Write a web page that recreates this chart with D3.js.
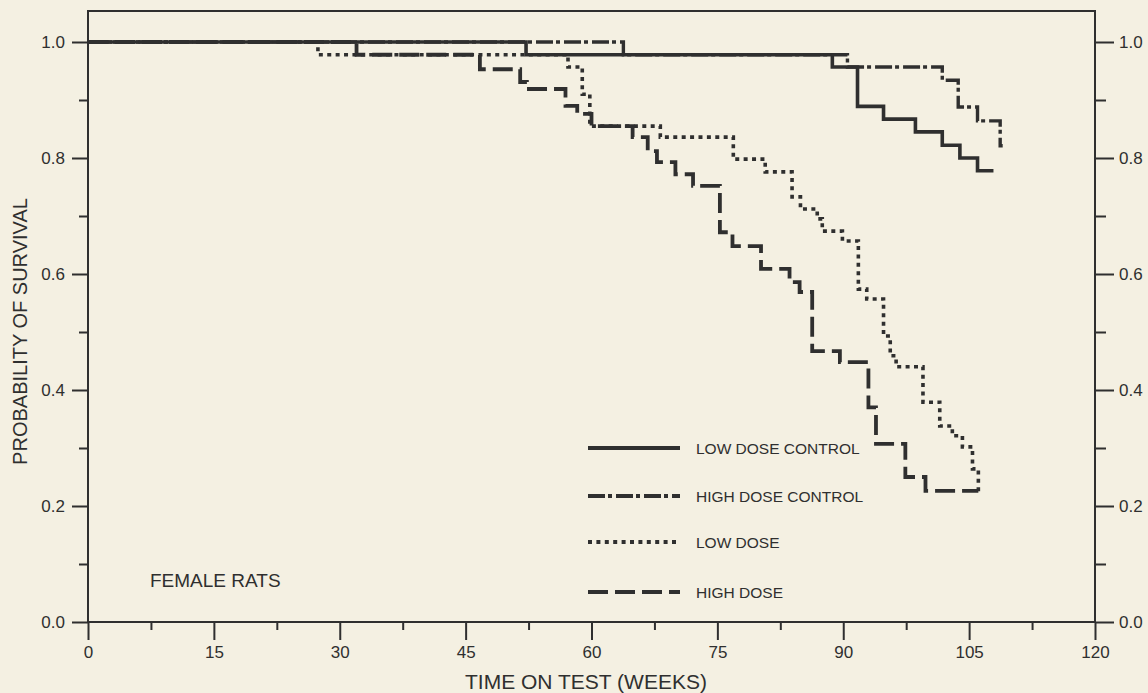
<!DOCTYPE html>
<html>
<head>
<meta charset="utf-8">
<script src="https://cdn.jsdelivr.net/npm/d3@7"></script>
<style>
  html, body { margin: 0; padding: 0; background: #f4f0e2; }
  svg { display: block; }
  text { font-family: "Liberation Sans", Arial, Helvetica, sans-serif; fill: #2f2f2f; }
</style>
</head>
<body>
<svg id="chart" width="1148" height="693"></svg>
<script>
// Axis ticks
const weekTicks = [0, 15, 30, 45, 60, 75, 90, 105, 120];
const weekMinorTicks = [7.5, 22.5, 37.5, 52.5, 67.5, 82.5, 97.5, 112.5];
const probTicks = [0.0, 0.2, 0.4, 0.6, 0.8, 1.0];
const probMinorTicks = [0.1, 0.3, 0.5, 0.7, 0.9];

// Kaplan-Meier survival estimates: [week, probability from that week on]
const lowDoseControl = [
  [0, 1.0], [52.2, 0.978], [88.7, 0.957], [91.7, 0.889], [94.8, 0.867],
  [98.6, 0.845], [101.8, 0.822], [103.9, 0.800], [106.0, 0.778], [107.9, 0.778]
];
const highDoseControl = [
  [0, 1.0], [63.8, 0.978], [90.5, 0.957], [101.8, 0.934], [103.7, 0.888],
  [106.0, 0.864], [108.7, 0.821], [109.0, 0.821]
];
const lowDose = [
  [0, 1.0], [27.4, 0.978], [57.2, 0.957], [58.9, 0.910], [59.8, 0.855],
  [68.2, 0.836], [76.9, 0.798], [80.7, 0.776], [83.9, 0.733], [84.9, 0.712],
  [86.9, 0.695], [87.5, 0.674], [89.9, 0.657], [91.8, 0.574], [92.8, 0.557],
  [94.8, 0.493], [95.6, 0.459], [96.3, 0.440], [99.5, 0.379], [101.5, 0.338],
  [103.0, 0.321], [104.2, 0.302], [105.4, 0.264], [106.1, 0.224], [106.2, 0.224]
];
const highDose = [
  [0, 1.0], [32.0, 0.978], [46.7, 0.953], [51.5, 0.931], [52.3, 0.919],
  [56.9, 0.890], [58.3, 0.876], [60.0, 0.855], [64.9, 0.836], [66.7, 0.812],
  [67.8, 0.793], [70.0, 0.772], [72.1, 0.752], [75.3, 0.672], [76.8, 0.648],
  [80.2, 0.609], [83.6, 0.586], [84.8, 0.569], [86.3, 0.467], [89.6, 0.448],
  [93.0, 0.370], [93.9, 0.307], [97.4, 0.250], [99.8, 0.226], [106.1, 0.226]
];

const seriesNames = ["LOW DOSE CONTROL", "HIGH DOSE CONTROL", "LOW DOSE", "HIGH DOSE"];
const seriesData = [lowDoseControl, highDoseControl, lowDose, highDose];

const ink = "#2f2f2f";
const dashes = [null, "17,3,4,4", "4,4.4", "20,7"];
const widths = [3.6, 3.4, 3.6, 3.8];

const svg = d3.select("#chart");
const frameTop = 11;

const x = d3.scaleLinear().domain([0, 120]).range([88, 1095]);
const y = d3.scaleLinear().domain([0, 1]).range([622, 42]);

const axisStyle = g => {
  g.select(".domain").remove();
  g.selectAll("line").attr("stroke", ink).attr("stroke-width", 2);
  g.selectAll("text").style("font-size", "17px").attr("fill", ink);
};

// bottom axis: majors with labels, minors without
svg.append("g").attr("transform", `translate(0,${y(0)})`)
  .call(d3.axisBottom(x).tickValues(weekTicks).tickSize(18).tickPadding(6).tickFormat(d3.format("d")))
  .call(axisStyle);
svg.append("g").attr("transform", `translate(0,${y(0)})`)
  .call(d3.axisBottom(x).tickValues(weekMinorTicks).tickSize(8).tickFormat(""))
  .call(axisStyle);

// left axis
svg.append("g").attr("transform", `translate(${x(0)},0)`)
  .call(d3.axisLeft(y).tickValues(probTicks).tickSize(16).tickPadding(7).tickFormat(d3.format(".1f")))
  .call(axisStyle);
svg.append("g").attr("transform", `translate(${x(0)},0)`)
  .call(d3.axisLeft(y).tickValues(probMinorTicks).tickSize(9).tickFormat(""))
  .call(axisStyle);

// right axis
svg.append("g").attr("transform", `translate(${x(120)},0)`)
  .call(d3.axisRight(y).tickValues(probTicks).tickSize(19).tickPadding(5).tickFormat(d3.format(".1f")))
  .call(axisStyle);
svg.append("g").attr("transform", `translate(${x(120)},0)`)
  .call(d3.axisRight(y).tickValues(probMinorTicks).tickSize(11).tickFormat(""))
  .call(axisStyle);

// frame
const frame = svg.append("g").attr("stroke", ink).attr("stroke-width", 2).attr("fill", "none");
frame.append("path").attr("d", `M${x(0)},${y(0)}V${frameTop}H${x(120)}V${y(0)}`);
frame.append("line").attr("x1", x(0)).attr("x2", x(120)).attr("y1", y(0)).attr("y2", y(0));

// survival curves
const line = d3.line().x(d => x(d[0])).y(d => y(d[1])).curve(d3.curveStepAfter);
svg.append("g").selectAll("path").data(seriesData).join("path")
  .attr("d", line)
  .attr("fill", "none")
  .attr("stroke", ink)
  .attr("stroke-width", (d, i) => widths[i])
  .attr("stroke-dasharray", (d, i) => dashes[i]);

// legend
const legendRows = [448, 496, 542, 592];
const legend = svg.append("g");
seriesNames.forEach((name, i) => {
  legend.append("line")
    .attr("x1", 588).attr("x2", 680).attr("y1", legendRows[i]).attr("y2", legendRows[i])
    .attr("stroke", ink).attr("stroke-width", 4)
    .attr("stroke-dasharray", dashes[i]);
  legend.append("text")
    .attr("x", 696).attr("y", legendRows[i]).attr("dy", "0.36em")
    .style("font-size", "15.5px").text(name);
});

// annotation and axis titles
svg.append("text").attr("x", 150).attr("y", 587).style("font-size", "19px").text("FEMALE RATS");

svg.append("text")
  .attr("x", 586).attr("y", 689)
  .attr("text-anchor", "middle").style("font-size", "21px")
  .text("TIME ON TEST (WEEKS)");

svg.append("text")
  .attr("transform", `translate(27,${(y(0) + frameTop) / 2 + 15}) rotate(-90)`)
  .attr("text-anchor", "middle").style("font-size", "20px")
  .text("PROBABILITY OF SURVIVAL");
</script>
</body>
</html>
